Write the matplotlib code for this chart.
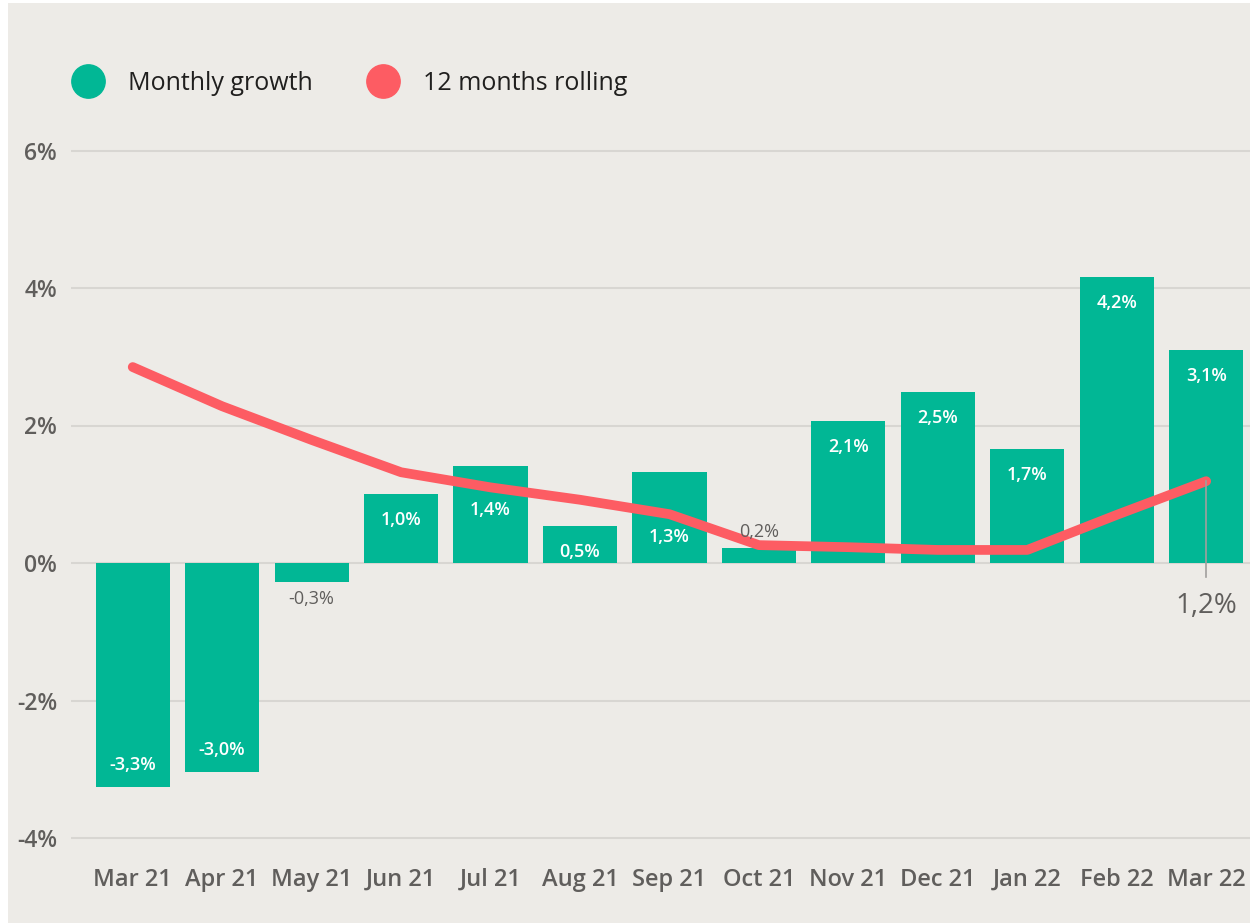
import numpy as np
import matplotlib.pyplot as plt
from matplotlib.patches import Rectangle
from matplotlib.lines import Line2D

plt.rcParams['font.family'] = ['Open Sans', 'DejaVu Sans']

# data
months = ['Mar 21', 'Apr 21', 'May 21', 'Jun 21', 'Jul 21', 'Aug 21', 'Sep 21',
          'Oct 21', 'Nov 21', 'Dec 21', 'Jan 22', 'Feb 22', 'Mar 22']
monthly = [-3.26, -3.04, -0.28, 1.0, 1.41, 0.54, 1.32, 0.22, 2.07, 2.49, 1.66, 4.16, 3.10]
monthly_labels = ['-3,3%', '-3,0%', '-0,3%', '1,0%', '1,4%', '0,5%', '1,3%',
                  '0,2%', '2,1%', '2,5%', '1,7%', '4,2%', '3,1%']
rolling = [2.85, 2.28, 1.79, 1.32, 1.10, 0.92, 0.71, 0.26, 0.23, 0.19, 0.19, 0.70, 1.19]
yticks = [-4, -2, 0, 2, 4, 6]

bg = '#EDEBE7'
green = '#01B795'
red = '#FD5C63'
gray = '#605E5C'

fig = plt.figure(figsize=(12.5, 9.23), dpi=100)
fig.patch.set_facecolor('white')
fig.patches.append(Rectangle((8 / 1250, 0), 1 - 8 / 1250, 1 - 3 / 923,
                             transform=fig.transFigure, facecolor=bg,
                             edgecolor='none', zorder=-10))

# axes: 0% at y=563px, 68.75 px per 1%
ax = fig.add_axes([71 / 1250, (923 - 850) / 923, 1 - 71 / 1250, (850 - 140) / 923])
ax.set_facecolor('none')
ax.set_ylim(-(850 - 563) / 68.75, (563 - 140) / 68.75)

x = np.arange(len(months))
ax.set_xlim(-0.69, len(months) - 1 + 0.49)

ax.bar(x, monthly, width=0.83, color=green, zorder=2)
ax.plot(x, rolling, color=red, lw=7, solid_capstyle='round',
        solid_joinstyle='round', zorder=3)

for xi, v, r, lab in zip(x, monthly, rolling, monthly_labels):
    if abs(v) < 0.5:
        if v >= 0:
            ax.text(xi, v + 0.1, lab, ha='center', va='bottom', color=gray, fontsize=13)
        else:
            ax.text(xi, v - 0.12, lab, ha='center', va='top', color=gray, fontsize=13)
    elif v > 0:
        yl = v - 0.38
        if abs(yl - r) < 0.3:
            yl = r - 0.33  # keep the label clear of the line
        ax.text(xi, yl, lab, ha='center', va='center', color='white',
                fontsize=13, fontweight='semibold')
    else:
        ax.text(xi, v + 0.32, lab, ha='center', va='center', color='white',
                fontsize=13, fontweight='semibold')

# leader label for last rolling value
last = len(months) - 1
ax.plot([x[last], x[last]], [rolling[last], -0.2], color='#A19F9D', lw=1.2, zorder=4)
ax.text(x[last], -0.42, '1,2%', ha='center', va='top', color=gray, fontsize=20)

ax.set_yticks(yticks)
ax.set_yticklabels([f'{t}%' for t in yticks], fontsize=16.5, color=gray, fontweight='semibold')
ax.set_xticks(x)
ax.set_xticklabels(months, fontsize=17, color=gray, fontweight='semibold')
ax.tick_params(axis='both', length=0)
ax.tick_params(axis='y', pad=10)
ax.tick_params(axis='x', pad=13)
ax.grid(axis='y', color='#D8D6D2', lw=1.5, zorder=0)
ax.set_axisbelow(True)
for s in ax.spines.values():
    s.set_visible(False)

handles = [Line2D([], [], marker='o', ls='none', markersize=24, color=green),
           Line2D([], [], marker='o', ls='none', markersize=24, color=red)]
fig.legend(handles, ['Monthly growth', '12 months rolling'], loc='center left',
           bbox_to_anchor=(40 / 1250, 1 - 83 / 923), ncol=2, frameon=False,
           fontsize=18, handletextpad=0.62, columnspacing=1.8, labelcolor='#201F1E')

fig.savefig('out.png', dpi=100, facecolor=fig.get_facecolor())
